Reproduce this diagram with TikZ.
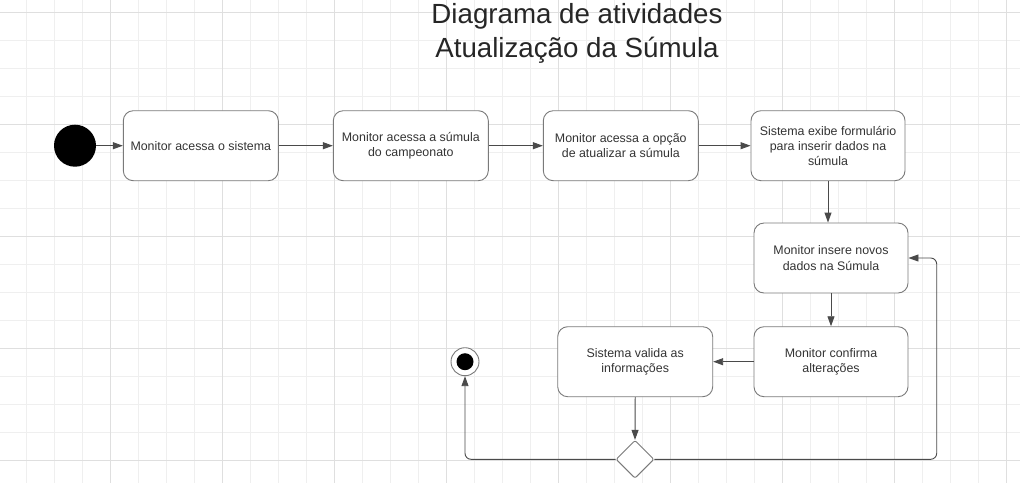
\documentclass[tikz,border=0pt]{standalone}
\usepackage{fontspec}
\setmainfont{Liberation Sans}
\usetikzlibrary{arrows.meta,shapes.geometric}
\definecolor{gminor}{HTML}{EFEFEF}
\definecolor{gmajor}{HTML}{DFDFDF}
\definecolor{boxline}{HTML}{7A7A7A}
\definecolor{arrline}{HTML}{4A4A4A}
\definecolor{txt}{HTML}{333333}
\tikzset{
  minorline/.style={draw=gminor, line width=1pt},
  majorline/.style={draw=gmajor, line width=1.3pt},
  act/.style={draw=boxline, line width=0.9pt, rounded corners=10pt, fill=white,
    minimum width=155pt, minimum height=70pt, align=center, text=txt, inner sep=2pt,
    font=\fontsize{12.4}{15.2}\selectfont},
  flow/.style={draw=arrline, line width=0.9pt, -{Triangle[length=10pt,width=7pt]}},
  titletext/.style={align=center, text=black!85, font=\fontsize{27.7}{34.3}\selectfont}
}
\begin{document}
\begin{tikzpicture}[x=1pt,y=-1pt]
\useasboundingbox (0,0) rectangle (1020,483);
\fill[white] (0,0) rectangle (1020,483);
% grid
\foreach \k in {0,...,37} \draw[minorline] ({-1.3+28*\k},0) -- ({-1.3+28*\k},483);
\foreach \k in {0,...,16} \draw[minorline] (0,{12.3+28*\k}) -- (1020,{12.3+28*\k});
\foreach \k in {1,...,9} \draw[majorline] ({-1.3+112*\k},0) -- ({-1.3+112*\k},483);
\foreach \k in {0,...,4} \draw[majorline] (0,{12.3+112*\k}) -- (1020,{12.3+112*\k});
% title
\node[titletext] (title) at (577,33.5) {Diagrama de atividades\\Atualização da Súmula};
% nodes
\node[circle, fill=black, minimum size=42pt, inner sep=0pt] (start) at (75,145.7) {};
\node[act] (n1) at (200.8,145.7) {Monitor acessa o sistema};
\node[act] (n2) at (410.8,145.7) {Monitor acessa a súmula\\do campeonato};
\node[act] (n3) at (620.8,145.7) {Monitor acessa a opção\\de atualizar a súmula};
\node[act, minimum width=154pt] (n4) at (828,145.7) {Sistema exibe formulário\\para inserir dados na\\súmula};
\node[act, minimum width=154pt] (n5) at (831,258) {Monitor insere novos\\dados na Súmula};
\node[act, minimum width=154pt] (n6) at (831,361.7) {Monitor confirma\\alterações};
\node[act] (n7) at (635.2,361.7) {Sistema valida as\\informações};
\node[diamond, draw=boxline, line width=0.9pt, fill=white, minimum size=38pt, inner sep=0pt, rounded corners=2pt] (dec) at (635,459.3) {};
\node[circle, draw=boxline, line width=0.9pt, fill=white, minimum size=28pt, inner sep=0pt] (final) at (465,361.7) {};
\node[circle, fill=black, minimum size=17pt, inner sep=0pt] (finaldot) at (final.center) {};
\coordinate (rt) at (936.7,459.3);
% connectors
\draw[flow] (start) -- (n1);
\draw[flow] (n1) -- (n2);
\draw[flow] (n2) -- (n3);
\draw[flow] (n3) -- (n4);
\draw[flow] (n4.south) -- (n4.south |- n5.north);
\draw[flow] (n5.south) -- (n6.north);
\draw[flow] (n6.west) -- (n7.east);
\draw[flow] (n7.south) -- (dec.north);
\draw[flow, rounded corners=6pt] (dec.west) -| (final.south);
\draw[flow, rounded corners=6pt] (dec.east) -- (rt) |- (n5.east);
\end{tikzpicture}
\end{document}
